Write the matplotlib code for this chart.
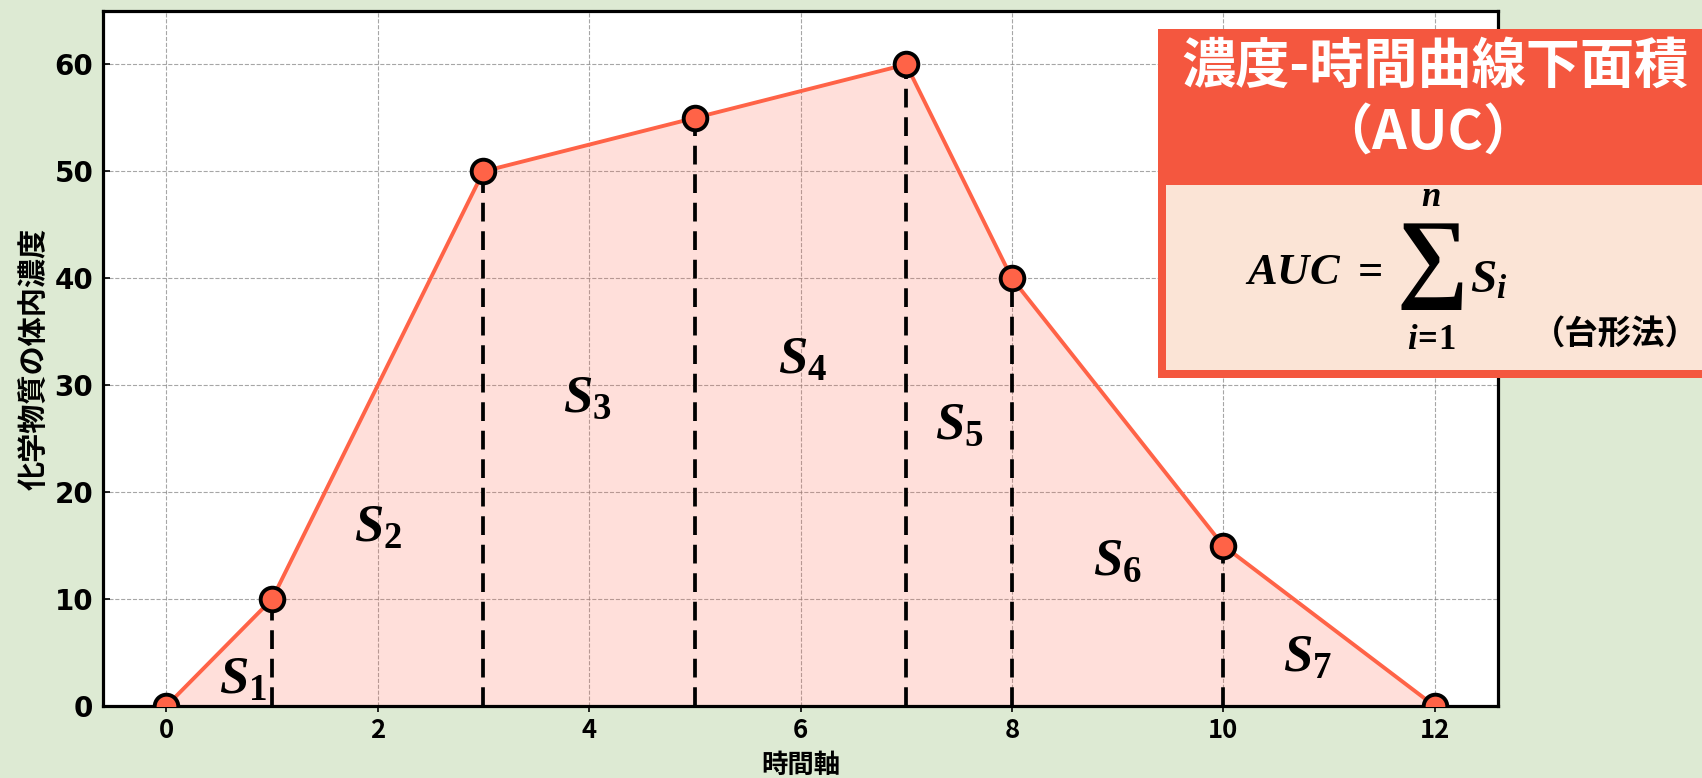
import matplotlib
matplotlib.use("Agg")
import matplotlib.pyplot as plt
from matplotlib.patches import Rectangle

# ---- data ----
times = [0, 1, 3, 5, 7, 8, 10, 12]
conc = [0, 10, 50, 55, 60, 40, 15, 0]
x_ticks = [0, 2, 4, 6, 8, 10, 12]
y_ticks = [0, 10, 20, 30, 40, 50, 60]
seg_labels = ["S_1", "S_2", "S_3", "S_4", "S_5", "S_6", "S_7"]
seg_label_pos = [(0.72, 2.5), (2.0, 16.8), (3.98, 28.9), (6.02, 32.5),
                 (7.5, 26.4), (9.0, 13.7), (10.8, 4.6)]
title_line1 = "濃度-時間曲線下面積"
title_line2 = "（AUC）"
method_text = "（台形法）"
xlabel = "時間軸"
ylabel = "化学物質の体内濃度"

plt.rcParams['mathtext.fontset'] = 'custom'
plt.rcParams['mathtext.it'] = 'Liberation Serif:italic:bold'
plt.rcParams['mathtext.rm'] = 'Liberation Serif:bold'
plt.rcParams['mathtext.bf'] = 'Liberation Serif:bold'

W, H = 1702, 778
fig = plt.figure(figsize=(W / 100, H / 100), dpi=100)
fig.patch.set_facecolor('#DDEAD3')

ax = fig.add_axes([103 / W, 1 - 706 / H, (1498 - 103) / W, (706 - 11) / H])
ax.set_facecolor('white')

red = '#FF6347'
ax.fill_between(times, conc, 0, color=red, alpha=0.2, linewidth=0, zorder=1)
ax.plot(times, conc, color=red, lw=2.8, zorder=3)
for t, c in zip(times[1:-1], conc[1:-1]):
    ax.plot([t, t], [0, c], color='black', lw=2.7, ls=(0, (5, 2.6)), zorder=2)
ax.plot(times, conc, ls='none', marker='o', ms=17, mfc=red, mec='black',
        mew=2.8, zorder=4)

for lab, (x, y) in zip(seg_labels, seg_label_pos):
    ax.text(x, y, f"${lab}$", fontsize=38, ha='center', va='center', zorder=5)

ax.set_xlim(-0.6, 12.6)
ax.set_ylim(0, 65)
ax.set_xticks(x_ticks)
ax.set_yticks(y_ticks)
ax.grid(True, color='gray', ls='--', lw=0.8, alpha=0.7, zorder=0)
ax.set_axisbelow(True)
for s in ax.spines.values():
    s.set_linewidth(2.3)
    s.set_color('black')

ax.tick_params(axis='y', direction='in', length=5, width=1.2, pad=7)
ax.tick_params(axis='x', direction='out', length=4, width=1.2, pad=4)
for lbl in ax.get_yticklabels():
    lbl.set_fontfamily('DejaVu Sans')
    lbl.set_fontweight('bold')
    lbl.set_fontsize(20)
for lbl in ax.get_xticklabels():
    lbl.set_fontfamily('Noto Sans CJK JP')
    lbl.set_fontweight('bold')
    lbl.set_fontsize(18.5)

ax.set_xlabel(xlabel, fontfamily='Noto Sans CJK JP', fontweight='bold',
              fontsize=19, labelpad=6)
ax.set_ylabel(ylabel, fontfamily='Noto Sans CJK JP', fontweight='bold',
              fontsize=21, labelpad=4)

# ---- formula box ----
def fx(px):
    return px / W

def fy(py):
    return 1 - py / H

outer = Rectangle((fx(1158), fy(378)), fx(1720) - fx(1158), fy(29) - fy(378),
                  transform=fig.transFigure, facecolor='#F4573F',
                  edgecolor='none', zorder=10)
inner = Rectangle((fx(1166), fy(370)), fx(1720) - fx(1166), fy(185) - fy(370),
                  transform=fig.transFigure, facecolor='#FBE4D6',
                  edgecolor='none', zorder=11)
fig.add_artist(outer)
fig.add_artist(inner)

fig.text(fx(1435), fy(67), title_line1, color='white', fontsize=39,
         fontweight='bold', fontfamily='Noto Sans CJK JP',
         ha='center', va='center', zorder=12)
fig.text(fx(1428), fy(134), title_line2, color='white', fontsize=39,
         fontweight='bold', fontfamily='Noto Sans CJK JP',
         ha='center', va='center', zorder=12)

fig.text(fx(1245), fy(272), r"$AUC\ =$", fontsize=32, ha='left',
         va='center', zorder=12)
fig.text(fx(1430), fy(264), r"$\sum$", fontsize=72, ha='center',
         va='center', zorder=12)
fig.text(fx(1431), fy(196), r"$n$", fontsize=25, ha='center',
         va='center', zorder=12)
fig.text(fx(1431), fy(339), r"$i\!=\!1$", fontsize=25, ha='center',
         va='center', zorder=12)
fig.text(fx(1470), fy(280), r"$S_i$", fontsize=34, ha='left',
         va='center', zorder=12)
fig.text(fx(1615), fy(334), method_text, fontsize=24, fontweight='bold',
         fontfamily='Noto Sans CJK JP', ha='center', va='center', zorder=12)

fig.savefig('out.png', dpi=100, facecolor=fig.get_facecolor())
